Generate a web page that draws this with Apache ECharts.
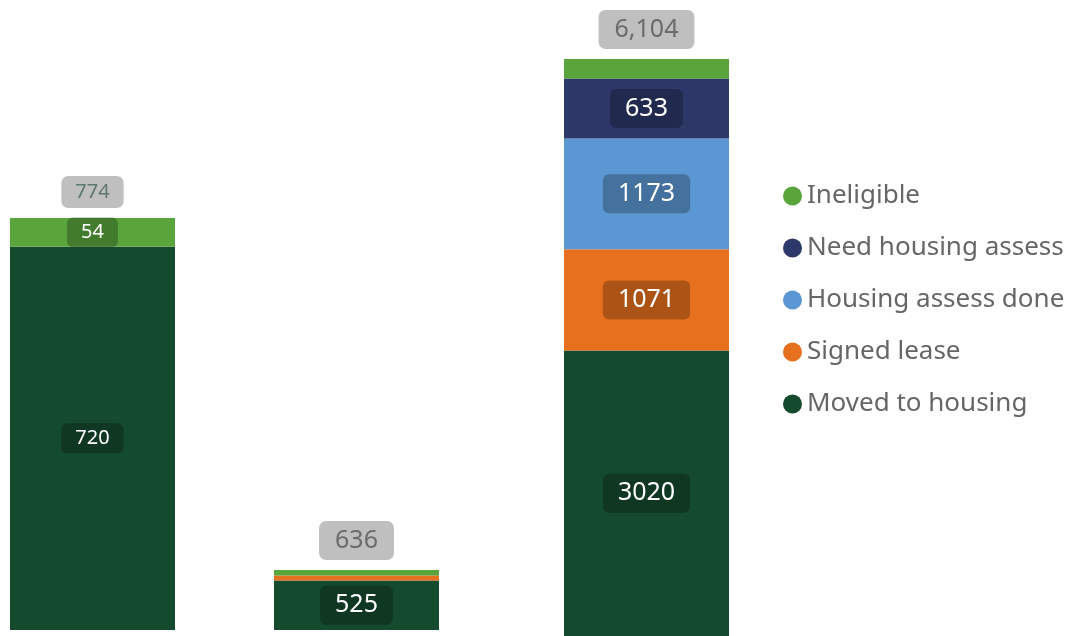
<!DOCTYPE html>
<html>
<head>
<meta charset="utf-8">
<script src="https://cdn.jsdelivr.net/npm/echarts@6/dist/echarts.min.js"></script>
<style>
html,body{margin:0;padding:0;background:#fff;}
#chart{width:1074px;height:636px;}
</style>
</head>
<body>
<div id="chart"></div>
<script>
// ---- data ----
const groups = ['Group 1', 'Group 2', 'Group 3'];
const seriesNames = ['Moved to housing', 'Signed lease', 'Housing assess done', 'Need housing assess', 'Ineligible'];
const movedToHousing = [720, 525, 3020];
const signedLease = [0, 53, 1071];
const housingAssessDone = [0, 0, 1173];
const needHousingAssess = [0, 0, 633];
const ineligible = [54, 58, 207];
const totals = [774, 636, 6104];
const legendOrder = ['Ineligible', 'Need housing assess', 'Housing assess done', 'Signed lease', 'Moved to housing'];

// ---- style ----
const colors = {
  'Moved to housing': '#144a2e',
  'Signed lease': '#e6701e',
  'Housing assess done': '#5b97d3',
  'Need housing assess': '#2d3869',
  'Ineligible': '#5aa43c'
};
const FONT = '"Noto Sans", "Open Sans", sans-serif';
const grids = [
  { left: 10, width: 165, top: 218, bottom: 6, fs: 20, pad: [5, 14], tpad: [6, 14], tcolor: '#5f776b' },
  { left: 274, width: 165, top: 570, bottom: 6, fs: 25, pad: [7, 15], tpad: [7, 16], tcolor: '#6b6b6b' },
  { left: 564, width: 165, top: 59, bottom: 0, fs: 25, pad: [7, 15], tpad: [7, 16], tcolor: '#6b6b6b' }
];
const values = [movedToHousing, signedLease, housingAssessDone, needHousingAssess, ineligible];

const option = {
  animation: false,
  grid: grids.map(g => ({ left: g.left, width: g.width, top: g.top, bottom: g.bottom })),
  xAxis: grids.map((g, i) => ({ type: 'category', gridIndex: i, data: [groups[i]], show: false })),
  yAxis: grids.map((g, i) => ({ type: 'value', gridIndex: i, min: 0, max: totals[i], show: false })),
  legend: {
    orient: 'vertical',
    left: 778,
    top: 178,
    icon: 'circle',
    itemWidth: 19,
    itemHeight: 19,
    itemGap: 26,
    data: legendOrder,
    textStyle: { fontFamily: FONT, fontSize: 26, color: '#666666' }
  },
  series: []
};

const H = 636;
grids.forEach((g, i) => {
  const gh = H - g.top - g.bottom;
  seriesNames.forEach((name, k) => {
    const v = values[k][i];
    const px = v / totals[i] * gh;
    option.series.push({
      name: name,
      type: 'bar',
      stack: 'total' + i,
      xAxisIndex: i,
      yAxisIndex: i,
      barWidth: '100%',
      itemStyle: { color: colors[name] },
      data: [{
        value: v,
        label: {
          show: px >= 25,
          position: 'inside',
          color: '#ffffff',
          fontFamily: FONT,
          fontSize: g.fs,
          backgroundColor: 'rgba(0,0,0,0.25)',
          borderRadius: 6,
          padding: g.pad
        }
      }]
    });
  });
  option.series.push({
    name: 'Total',
    type: 'bar',
    xAxisIndex: i,
    yAxisIndex: i,
    barWidth: '100%',
    barGap: '-100%',
    silent: true,
    itemStyle: { color: 'rgba(0,0,0,0)' },
    label: {
      show: true,
      position: 'top',
      distance: 10,
      color: g.tcolor,
      fontFamily: FONT,
      fontSize: g.fs,
      backgroundColor: '#bfbfbf',
      borderRadius: 7,
      padding: g.tpad,
      formatter: p => p.value.toLocaleString('en-US')
    },
    data: [totals[i]]
  });
});

const chart = echarts.init(document.getElementById('chart'));
chart.setOption(option);
</script>
</body>
</html>
